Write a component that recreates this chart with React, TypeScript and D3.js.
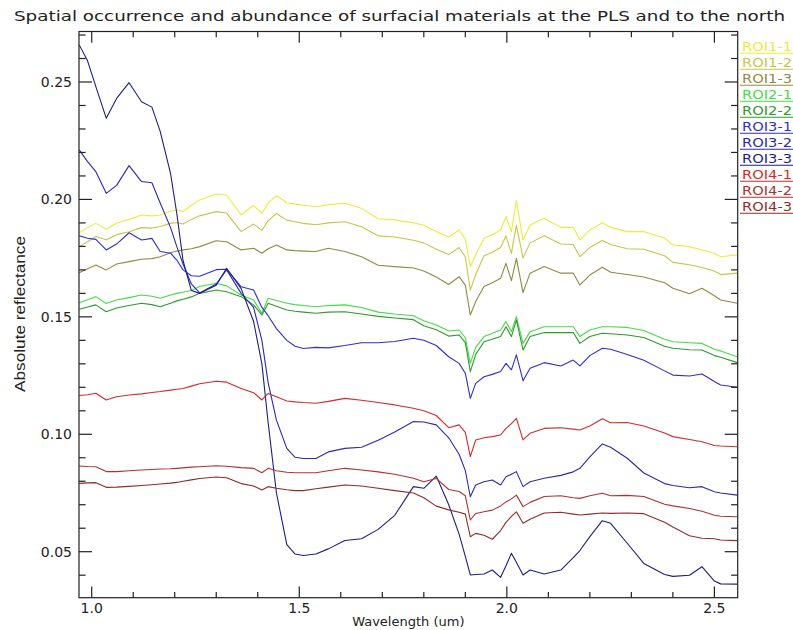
import React from "react";
import * as d3 from "d3";

const wavelengths = [0.97, 0.99, 1.01, 1.035, 1.06, 1.09, 1.12, 1.145, 1.165, 1.19, 1.205, 1.22, 1.24, 1.26, 1.30, 1.325, 1.36, 1.39, 1.41, 1.425, 1.445, 1.47, 1.49, 1.51, 1.54, 1.57, 1.61, 1.65, 1.69, 1.73, 1.775, 1.80, 1.83, 1.86, 1.885, 1.90, 1.912, 1.925, 1.945, 1.965, 1.985, 1.998, 2.011, 2.023, 2.039, 2.056, 2.09, 2.13, 2.16, 2.176, 2.20, 2.23, 2.25, 2.29, 2.33, 2.38, 2.40, 2.44, 2.47, 2.50, 2.515, 2.555];

const roi1_1 = [0.1858, 0.1880, 0.1898, 0.1873, 0.1900, 0.1915, 0.1934, 0.1930, 0.1934, 0.1950, 0.1955, 0.1948, 0.1975, 0.1998, 0.2023, 0.2019, 0.1934, 0.1975, 0.1941, 0.1985, 0.2016, 0.1986, 0.1980, 0.1975, 0.1969, 0.1978, 0.1984, 0.1962, 0.1918, 0.1913, 0.1900, 0.1890, 0.1863, 0.1840, 0.1870, 0.1830, 0.1714, 0.1764, 0.1835, 0.1850, 0.1870, 0.1927, 0.1863, 0.1995, 0.1827, 0.1891, 0.1920, 0.1881, 0.1881, 0.1827, 0.1870, 0.1901, 0.1881, 0.1863, 0.1863, 0.1835, 0.1806, 0.1799, 0.1785, 0.1770, 0.1756, 0.1764];
const roi1_2 = [0.1799, 0.1820, 0.1842, 0.1828, 0.1850, 0.1862, 0.1880, 0.1878, 0.1885, 0.1898, 0.1902, 0.1895, 0.1915, 0.1930, 0.1948, 0.1942, 0.1863, 0.1895, 0.1868, 0.1910, 0.1940, 0.1912, 0.1905, 0.1898, 0.1892, 0.1900, 0.1905, 0.1884, 0.1845, 0.1840, 0.1826, 0.1815, 0.1788, 0.1765, 0.1795, 0.1755, 0.1614, 0.1680, 0.1760, 0.1775, 0.1795, 0.1845, 0.1770, 0.1891, 0.1750, 0.1815, 0.1845, 0.1810, 0.1808, 0.1756, 0.1795, 0.1825, 0.1808, 0.1790, 0.1788, 0.1760, 0.1732, 0.1722, 0.1710, 0.1695, 0.1680, 0.1686];
const roi1_3 = [0.1688, 0.1705, 0.1721, 0.1700, 0.1725, 0.1735, 0.1745, 0.1748, 0.1756, 0.1773, 0.1780, 0.1785, 0.1790, 0.1799, 0.1824, 0.1820, 0.1785, 0.1792, 0.1771, 0.1790, 0.1806, 0.1785, 0.1782, 0.1780, 0.1778, 0.1792, 0.1778, 0.1756, 0.1720, 0.1714, 0.1708, 0.1695, 0.1670, 0.1638, 0.1671, 0.1635, 0.1508, 0.1565, 0.1629, 0.1645, 0.1664, 0.1728, 0.1654, 0.1749, 0.1603, 0.1686, 0.1714, 0.1686, 0.1686, 0.1636, 0.1678, 0.1711, 0.1690, 0.1680, 0.1670, 0.1645, 0.1622, 0.1598, 0.1622, 0.1590, 0.1572, 0.1558];
const roi2_1 = [0.1560, 0.1573, 0.1586, 0.1557, 0.1572, 0.1582, 0.1593, 0.1588, 0.1579, 0.1593, 0.1600, 0.1605, 0.1612, 0.1629, 0.1643, 0.1632, 0.1593, 0.1572, 0.1515, 0.1579, 0.1570, 0.1558, 0.1552, 0.1548, 0.1543, 0.1548, 0.1551, 0.1540, 0.1520, 0.1512, 0.1505, 0.1483, 0.1465, 0.1440, 0.1444, 0.1412, 0.1302, 0.1370, 0.1416, 0.1430, 0.1444, 0.1480, 0.1437, 0.1501, 0.1387, 0.1437, 0.1458, 0.1458, 0.1458, 0.1416, 0.1444, 0.1458, 0.1458, 0.1455, 0.1442, 0.1405, 0.1394, 0.1390, 0.1387, 0.1362, 0.1355, 0.1330];
const roi2_2 = [0.1532, 0.1542, 0.1551, 0.1522, 0.1538, 0.1548, 0.1558, 0.1552, 0.1543, 0.1558, 0.1568, 0.1575, 0.1585, 0.1600, 0.1614, 0.1607, 0.1586, 0.1551, 0.1508, 0.1558, 0.1545, 0.1529, 0.1524, 0.1520, 0.1515, 0.1520, 0.1522, 0.1512, 0.1502, 0.1495, 0.1488, 0.1462, 0.1445, 0.1418, 0.1423, 0.1390, 0.1267, 0.1340, 0.1394, 0.1405, 0.1416, 0.1458, 0.1416, 0.1487, 0.1359, 0.1416, 0.1433, 0.1433, 0.1433, 0.1387, 0.1416, 0.1430, 0.1428, 0.1423, 0.1412, 0.1375, 0.1366, 0.1360, 0.1359, 0.1335, 0.1328, 0.1305];
const roi3_1 = [0.1845, 0.1835, 0.1830, 0.1785, 0.1810, 0.1858, 0.1827, 0.1834, 0.1778, 0.1771, 0.1742, 0.1700, 0.1675, 0.1673, 0.1701, 0.1703, 0.1628, 0.1614, 0.1540, 0.1505, 0.1450, 0.1400, 0.1375, 0.1365, 0.1370, 0.1368, 0.1378, 0.1390, 0.1390, 0.1395, 0.1409, 0.1400, 0.1378, 0.1330, 0.1302, 0.1260, 0.1153, 0.1217, 0.1245, 0.1255, 0.1267, 0.1302, 0.1274, 0.1338, 0.1228, 0.1281, 0.1305, 0.1291, 0.1316, 0.1291, 0.1335, 0.1366, 0.1362, 0.1340, 0.1315, 0.1270, 0.1252, 0.1248, 0.1257, 0.1225, 0.1210, 0.1200];
const roi3_2 = [0.2211, 0.2161, 0.2118, 0.2026, 0.2060, 0.2144, 0.2076, 0.2071, 0.1985, 0.1880, 0.1799, 0.1725, 0.1640, 0.1602, 0.1640, 0.1700, 0.1600, 0.1540, 0.1400, 0.1220, 0.1060, 0.0940, 0.0902, 0.0897, 0.0897, 0.0925, 0.0940, 0.0945, 0.0975, 0.1010, 0.1054, 0.1052, 0.1040, 0.0985, 0.0915, 0.0845, 0.0734, 0.0784, 0.0798, 0.0805, 0.0784, 0.0819, 0.0830, 0.0841, 0.0777, 0.0798, 0.0813, 0.0825, 0.0840, 0.0855, 0.0904, 0.0959, 0.0945, 0.0898, 0.0835, 0.0790, 0.0782, 0.0772, 0.0777, 0.0755, 0.0750, 0.0741];
const roi3_3 = [0.2658, 0.2590, 0.2480, 0.2346, 0.2430, 0.2497, 0.2416, 0.2393, 0.2290, 0.2110, 0.1940, 0.1740, 0.1612, 0.1600, 0.1635, 0.1707, 0.1620, 0.1480, 0.1300, 0.1050, 0.0750, 0.0530, 0.0490, 0.0484, 0.0490, 0.0512, 0.0548, 0.0555, 0.0595, 0.0655, 0.0777, 0.0770, 0.0822, 0.0700, 0.0575, 0.0480, 0.0401, 0.0403, 0.0405, 0.0422, 0.0391, 0.0440, 0.0493, 0.0455, 0.0401, 0.0422, 0.0405, 0.0422, 0.0475, 0.0505, 0.0564, 0.0632, 0.0621, 0.0536, 0.0450, 0.0403, 0.0395, 0.0400, 0.0436, 0.0375, 0.0363, 0.0362];
const roi4_1 = [0.1165, 0.1168, 0.1175, 0.1146, 0.1160, 0.1167, 0.1172, 0.1178, 0.1182, 0.1188, 0.1192, 0.1195, 0.1205, 0.1215, 0.1226, 0.1222, 0.1195, 0.1177, 0.1146, 0.1174, 0.1160, 0.1142, 0.1138, 0.1135, 0.1132, 0.1140, 0.1153, 0.1145, 0.1135, 0.1125, 0.1111, 0.1100, 0.1080, 0.1028, 0.1040, 0.1008, 0.0905, 0.0976, 0.0985, 0.0990, 0.0997, 0.1025, 0.1045, 0.1068, 0.0976, 0.1004, 0.1025, 0.1028, 0.1022, 0.1018, 0.1035, 0.1066, 0.1049, 0.1050, 0.1035, 0.1005, 0.0990, 0.0978, 0.0968, 0.0952, 0.0950, 0.0947];
const roi4_2 = [0.0865, 0.0863, 0.0862, 0.0841, 0.0841, 0.0845, 0.0848, 0.0850, 0.0852, 0.0853, 0.0855, 0.0857, 0.0860, 0.0862, 0.0866, 0.0864, 0.0858, 0.0855, 0.0836, 0.0855, 0.0845, 0.0838, 0.0836, 0.0836, 0.0836, 0.0845, 0.0855, 0.0848, 0.0840, 0.0830, 0.0813, 0.0798, 0.0812, 0.0765, 0.0756, 0.0738, 0.0635, 0.0663, 0.0670, 0.0677, 0.0695, 0.0712, 0.0725, 0.0741, 0.0692, 0.0710, 0.0735, 0.0738, 0.0730, 0.0727, 0.0738, 0.0749, 0.0738, 0.0740, 0.0735, 0.0702, 0.0695, 0.0684, 0.0672, 0.0655, 0.0651, 0.0649];
const roi4_3 = [0.0791, 0.0793, 0.0794, 0.0774, 0.0775, 0.0778, 0.0782, 0.0785, 0.0788, 0.0792, 0.0795, 0.0800, 0.0806, 0.0812, 0.0818, 0.0815, 0.0790, 0.0780, 0.0763, 0.0777, 0.0770, 0.0764, 0.0760, 0.0760, 0.0768, 0.0775, 0.0784, 0.0780, 0.0770, 0.0760, 0.0750, 0.0730, 0.0694, 0.0678, 0.0668, 0.0660, 0.0564, 0.0578, 0.0570, 0.0553, 0.0590, 0.0625, 0.0650, 0.0670, 0.0621, 0.0638, 0.0665, 0.0668, 0.0660, 0.0656, 0.0660, 0.0665, 0.0663, 0.0665, 0.0662, 0.0625, 0.0605, 0.0568, 0.0557, 0.0555, 0.0550, 0.0547];

const seriesNames = ["ROI1-1", "ROI1-2", "ROI1-3", "ROI2-1", "ROI2-2", "ROI3-1", "ROI3-2", "ROI3-3", "ROI4-1", "ROI4-2", "ROI4-3"];
const seriesValues = [roi1_1, roi1_2, roi1_3, roi2_1, roi2_2, roi3_1, roi3_2, roi3_3, roi4_1, roi4_2, roi4_3];
const seriesColors = ["#ecec3a", "#c6c64a", "#8c8c42", "#44dc44", "#2e9a2e", "#2e2ed2", "#2a2ab0", "#1e1e82", "#d42a2a", "#b43030", "#8e2c2c"];

const xMajor = [1.0, 1.5, 2.0, 2.5];
const xMajorLabels = ["1.0", "1.5", "2.0", "2.5"];
const yMajor = [0.05, 0.10, 0.15, 0.20, 0.25];
const yMajorLabels = ["0.05", "0.10", "0.15", "0.20", "0.25"];

const title = "Spatial occurrence and abundance of surfacial materials at the PLS and to the north";
const xTitle = "Wavelength (um)";
const yTitle = "Absolute reflectance";

export default function App() {
  const W = 793, H = 630;
  const left = 79, right = 737.7, top = 31.5, bottom = 597.7;
  const pxPerX = (714.4 - 91.7) / 1.5;
  const x0 = 1.0 - (91.7 - left) / pxPerX;
  const x1 = 2.5 + (right - 714.4) / pxPerX;
  const pxPerY = (551.7 - 82) / 0.2;
  const y0 = 0.05 - (bottom - 551.7) / pxPerY;
  const y1 = 0.25 + (82 - top) / pxPerY;
  const x = d3.scaleLinear().domain([x0, x1]).range([left, right]);
  const y = d3.scaleLinear().domain([y0, y1]).range([bottom, top]);

  const line = d3.line<number>().x((_, i) => x(wavelengths[i])).y((v) => y(v));

  const xMinor = d3.range(10, 26).map((d) => d / 10).filter((d) => !xMajor.some((m) => Math.abs(m - d) < 1e-9));
  const yMinor = d3.range(4, 28).map((d) => d / 100).filter((d) => y(d) >= top && y(d) <= bottom && !yMajor.some((m) => Math.abs(m - d) < 1e-9));

  const xMajLen = 11.3, xMinLen = 5.7, yMajLen = 13, yMinLen = 6.6;
  const axisColor = "#222";
  const font = "DejaVu Sans, sans-serif";

  return (
    <svg width={W} height={H} style={{ position: "absolute", left: 0, top: 0, display: "block", background: "#fff" }} xmlns="http://www.w3.org/2000/svg">
      <rect x={0} y={0} width={W} height={H} fill="#fff" />
      <text x={14} y={21} fontFamily={font} fontSize={14} fill="#222" textLength={771} lengthAdjust="spacingAndGlyphs">{title}</text>

      <defs>
        <clipPath id="plotclip">
          <rect x={left} y={top} width={right - left} height={bottom - top} />
        </clipPath>
      </defs>
      <g clipPath="url(#plotclip)">
        {seriesValues.map((vals, i) => (
          <path key={seriesNames[i]} d={line(vals) || ""} fill="none" stroke={seriesColors[i]} strokeWidth={1.1} strokeLinejoin="round" />
        ))}
      </g>

      <rect x={left} y={top} width={right - left} height={bottom - top} fill="none" stroke={axisColor} strokeWidth={1.2} />

      {xMajor.map((d) => (
        <g key={"xm" + d}>
          <line x1={x(d)} x2={x(d)} y1={bottom} y2={bottom - xMajLen} stroke={axisColor} strokeWidth={1.2} />
          <line x1={x(d)} x2={x(d)} y1={top} y2={top + xMajLen} stroke={axisColor} strokeWidth={1.2} />
        </g>
      ))}
      {xMinor.map((d) => (
        <g key={"xn" + d}>
          <line x1={x(d)} x2={x(d)} y1={bottom} y2={bottom - xMinLen} stroke={axisColor} strokeWidth={1.2} />
          <line x1={x(d)} x2={x(d)} y1={top} y2={top + xMinLen} stroke={axisColor} strokeWidth={1.2} />
        </g>
      ))}
      {yMajor.map((d) => (
        <g key={"ym" + d}>
          <line x1={left} x2={left + yMajLen} y1={y(d)} y2={y(d)} stroke={axisColor} strokeWidth={1.2} />
          <line x1={right} x2={right - yMajLen} y1={y(d)} y2={y(d)} stroke={axisColor} strokeWidth={1.2} />
        </g>
      ))}
      {yMinor.map((d) => (
        <g key={"yn" + d}>
          <line x1={left} x2={left + yMinLen} y1={y(d)} y2={y(d)} stroke={axisColor} strokeWidth={1.2} />
          <line x1={right} x2={right - yMinLen} y1={y(d)} y2={y(d)} stroke={axisColor} strokeWidth={1.2} />
        </g>
      ))}

      {xMajor.map((d, i) => (
        <text key={"xl" + d} x={x(d)} y={613} textAnchor="middle" fontFamily={font} fontSize={14} fill="#222">{xMajorLabels[i]}</text>
      ))}
      {yMajor.map((d, i) => (
        <text key={"yl" + d} x={72} y={y(d) + 5} textAnchor="end" fontFamily={font} fontSize={14} fill="#222">{yMajorLabels[i]}</text>
      ))}

      <text x={(left + right) / 2} y={626} textAnchor="middle" fontFamily={font} fontSize={13} fill="#222">{xTitle}</text>
      <text transform={`translate(25,314) rotate(-90)`} textAnchor="middle" fontFamily="Liberation Sans, Arial, sans-serif" fontSize={14} fill="#222" textLength={156} lengthAdjust="spacingAndGlyphs">{yTitle}</text>

      {seriesNames.map((n, i) => {
        const base = 50.7 + i * 16;
        return (
          <g key={"lg" + n}>
            <text x={742} y={base} fontFamily={font} fontSize={12} fill={seriesColors[i]} textLength={50} lengthAdjust="spacingAndGlyphs">{n}</text>
            <line x1={740} x2={793} y1={base + 2.5} y2={base + 2.5} stroke={seriesColors[i]} strokeWidth={1.1} />
          </g>
        );
      })}
    </svg>
  );
}
